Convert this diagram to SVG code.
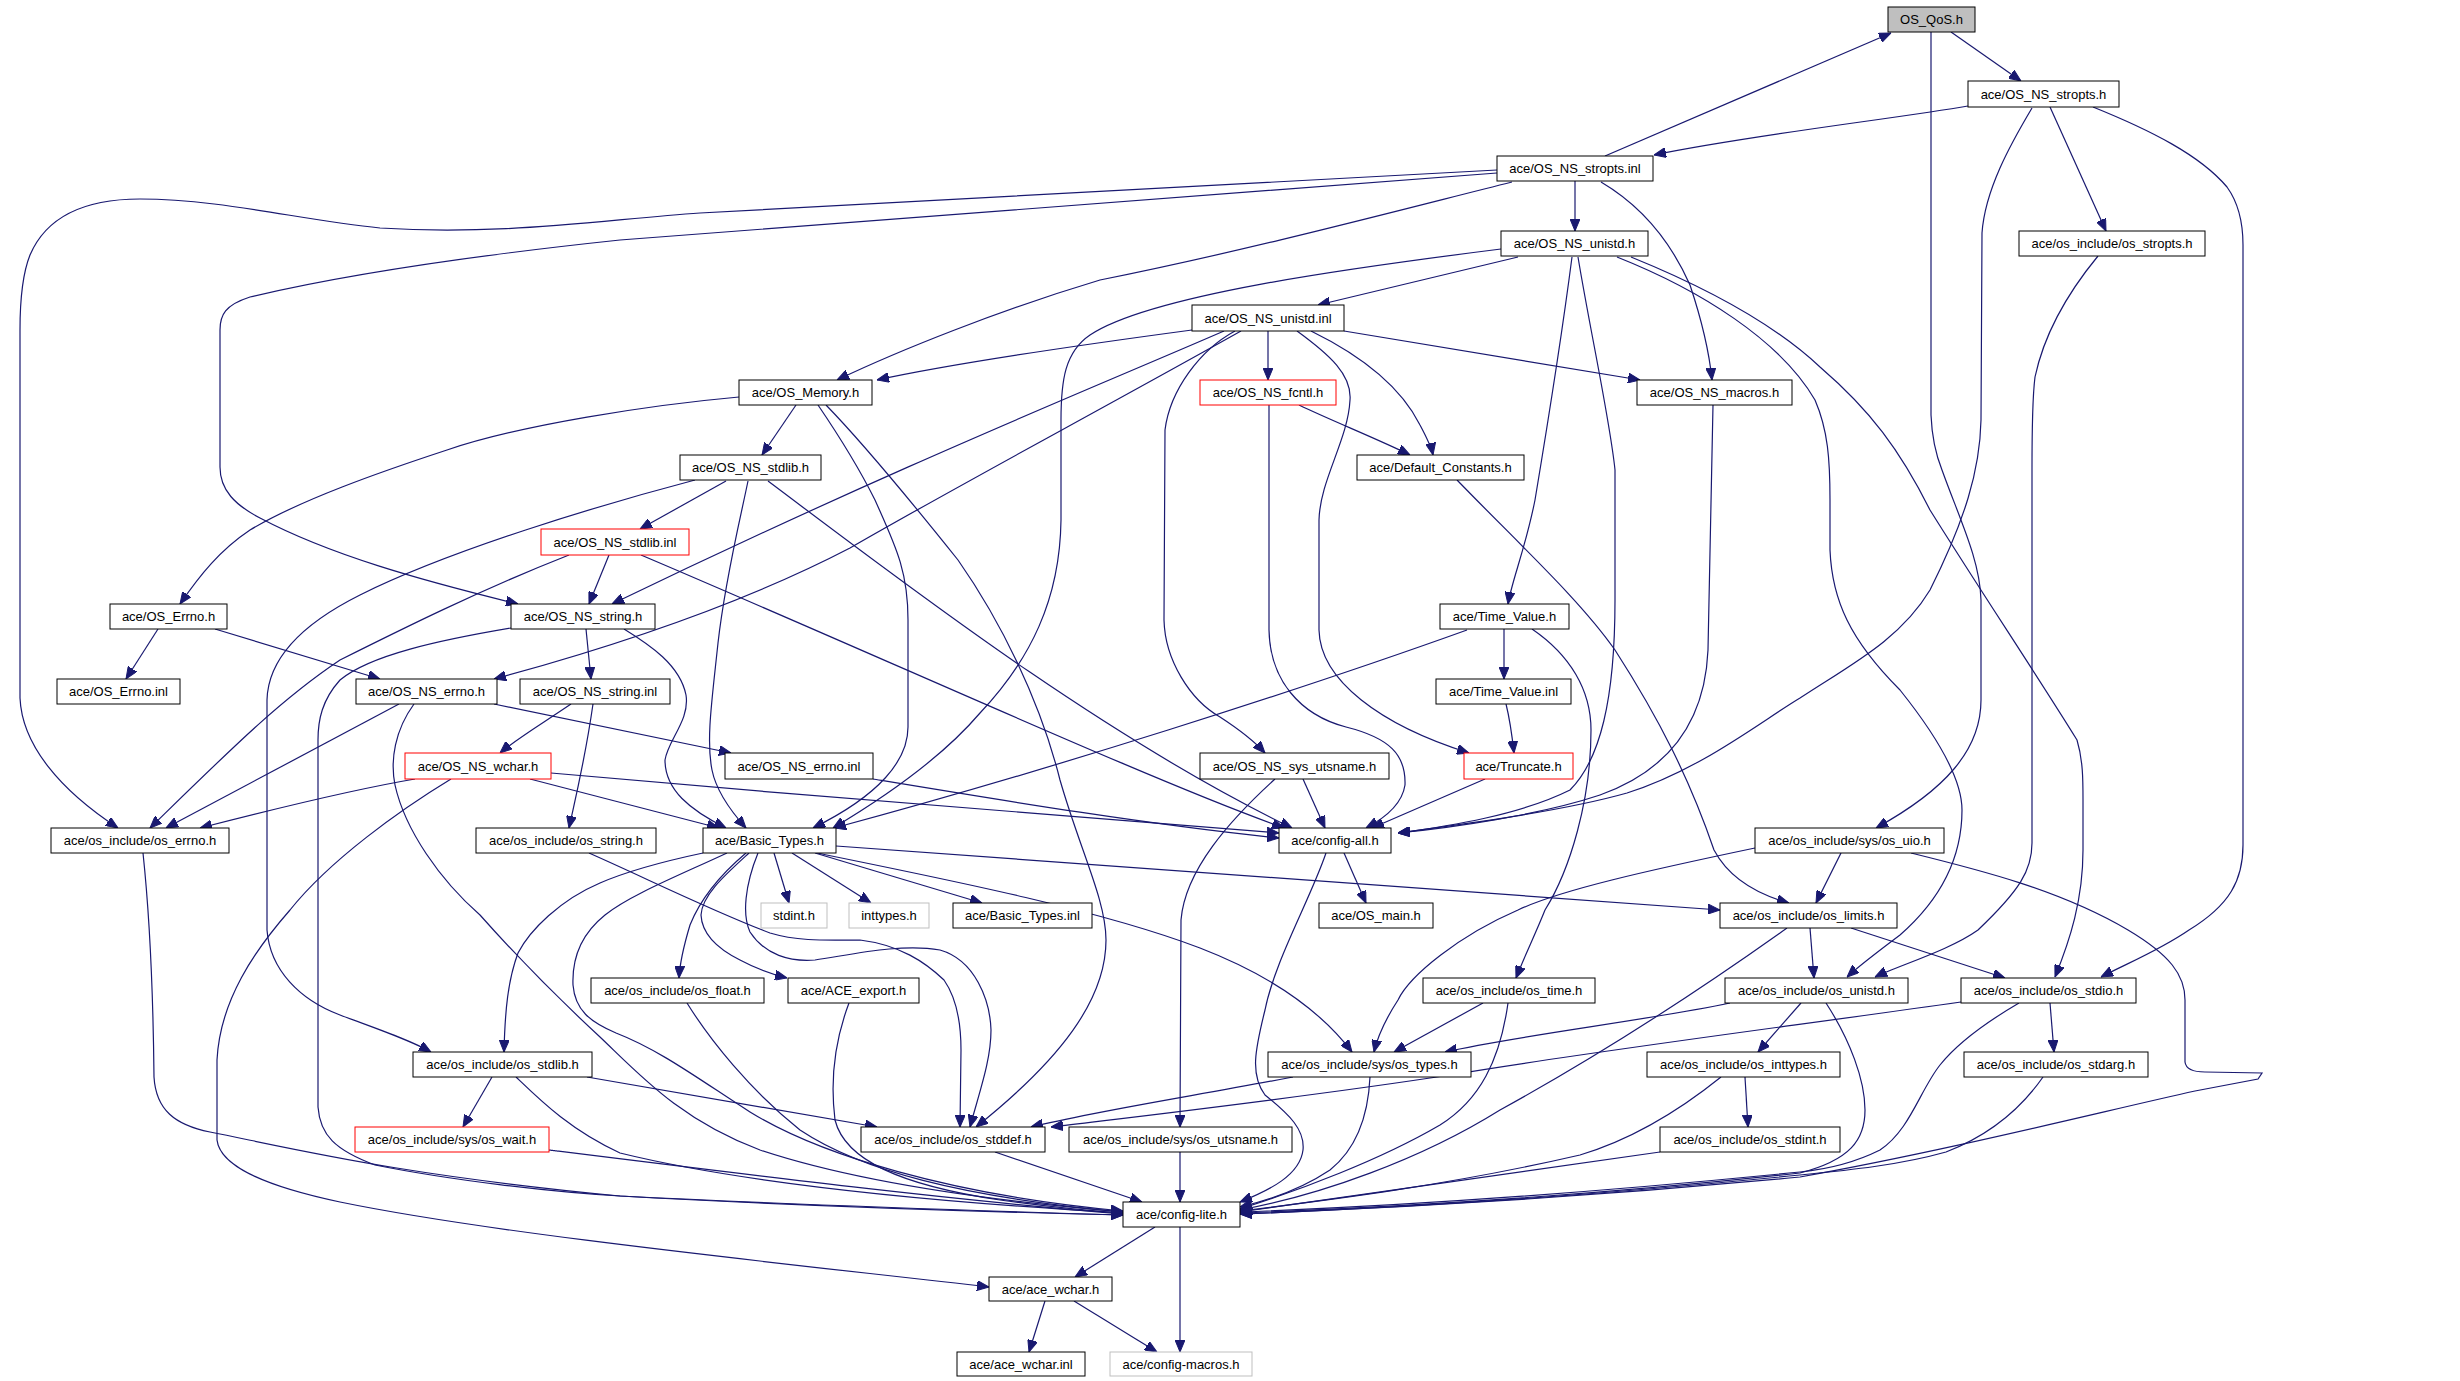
<svg xmlns="http://www.w3.org/2000/svg" width="2460" height="1381" viewBox="0 0 2460 1381">
<defs>
<style>
.n rect{fill:#fff;stroke:#000;stroke-width:1}
.n.r rect{stroke:#f00}
.n.g rect{stroke:#bfbfbf}
.n.q rect{fill:#bfbfbf}
text{font-family:"Liberation Sans",Arial,sans-serif;font-size:13px;text-anchor:middle;fill:#000}
.e path{fill:none;stroke:#191970;stroke-width:1.2;marker-end:url(#a)}
</style>
<marker id="a" markerWidth="12" markerHeight="10" refX="12" refY="5" orient="auto" markerUnits="userSpaceOnUse"><path d="M0,0 L12,5 L0,10 z" fill="#191970" stroke="#191970" stroke-width="1"/></marker>
</defs>
<rect width="2460" height="1381" fill="#fff"/>
<g id="edges" class="e">
<path d="M1951,32 L2021,81"/>
<path d="M1931,32 L1931,415 C1932,440 1936,455 1942,470 C1960,520 1980,560 1981,600 L1981,700 C1981,750 1945,790 1876,828"/>
<path d="M1605,156 L1891,33"/>
<path d="M1968,106 C1900,118 1750,135 1654,155"/>
<path d="M2050,107 L2106,231"/>
<path d="M2032,108 C2010,145 1985,190 1982,233 L1981,420 C1980,470 1965,520 1930,590 C1900,640 1850,665 1800,698 C1760,722 1700,770 1627,793 C1560,812 1450,826 1398,833"/>
<path d="M2093,107 C2150,130 2200,155 2227,187 C2240,205 2243,225 2243,245 L2243,845 C2243,880 2230,905 2189,930 C2160,950 2130,962 2101,977"/>
<path d="M2098,256 C2070,290 2045,330 2035,377 C2032,400 2032,430 2032,470 L2032,843 C2032,870 2020,890 1978,930 C1950,950 1900,965 1875,977"/>
<path d="M1575,181 L1575,231"/>
<path d="M1601,182 C1640,205 1670,240 1690,285 C1705,330 1710,360 1712,380"/>
<path d="M1512,182 C1400,210 1250,250 1100,280 C1000,310 900,350 837,380"/>
<path d="M1497,170 L700,213 C600,220 500,236 380,228 C300,220 220,199 140,199 C80,199 45,220 30,255 C22,275 20,300 20,330 L20,698 C22,745 60,790 118,828"/>
<path d="M1497,173 L620,240 C450,258 330,278 250,297 C225,305 220,315 220,330 L220,467 C220,490 235,505 260,518 C330,555 420,580 518,604"/>
<path d="M739,397 C650,405 520,425 447,450 C380,472 300,500 250,530 C220,550 200,575 180,604"/>
<path d="M796,405 L762,455"/>
<path d="M818,405 C835,430 860,470 875,500 C895,545 908,570 908,620 L908,727 C908,760 880,795 813,828"/>
<path d="M826,405 C860,440 910,500 958,560 C1000,620 1040,700 1060,780 C1080,850 1106,900 1106,940 C1106,1000 1060,1060 976,1127"/>
<path d="M726,481 L640,529"/>
<path d="M748,481 C740,520 725,580 718,643 C712,700 706,740 712,770 C716,790 728,808 746,828"/>
<path d="M768,481 C900,580 1100,735 1292,828"/>
<path d="M641,555 C900,665 1150,780 1284,828"/>
<path d="M609,555 L589,604"/>
<path d="M569,555 C480,590 400,630 340,660 C280,700 230,750 150,828"/>
<path d="M158,629 L126,679"/>
<path d="M215,629 L380,679"/>
<path d="M1241,331 C1100,410 950,490 850,548 C750,600 620,645 494,679"/>
<path d="M1224,331 C1100,385 900,465 612,604"/>
<path d="M1192,330 C1080,345 960,362 877,380"/>
<path d="M1268,331 L1268,380"/>
<path d="M1311,331 C1360,355 1400,385 1420,425 C1428,440 1432,450 1433,455"/>
<path d="M1344,331 L1640,380"/>
<path d="M1235,331 C1200,350 1170,390 1165,430 L1164,620 C1165,660 1190,700 1220,717 C1240,730 1255,742 1265,753"/>
<path d="M1297,331 C1330,355 1352,375 1350,400 C1348,440 1320,480 1319,520 L1319,630 C1320,680 1380,725 1469,753"/>
<path d="M1501,249 C1350,268 1150,295 1090,335 C1065,352 1061,380 1061,420 L1061,520 C1060,600 1030,660 980,713 C940,760 880,800 833,828"/>
<path d="M1518,257 L1318,305"/>
<path d="M1572,257 C1560,350 1545,440 1535,500 C1525,550 1512,580 1508,604"/>
<path d="M1578,257 C1590,330 1610,420 1615,470 L1615,600 C1615,700 1600,760 1570,790 C1520,815 1450,826 1398,833"/>
<path d="M1617,257 C1700,290 1780,340 1815,400 C1828,430 1830,460 1830,500 L1830,550 C1832,600 1850,640 1900,690 C1940,740 1962,780 1962,810 C1962,860 1940,900 1900,935 C1880,950 1860,965 1847,977"/>
<path d="M1631,257 C1700,285 1770,320 1820,367 C1870,410 1900,450 1930,510 C1980,590 2040,680 2077,740 C2083,760 2083,780 2083,800 L2083,850 C2083,900 2070,940 2055,977"/>
<path d="M1713,405 L1708,650 C1705,720 1670,770 1600,795 C1540,815 1450,828 1398,833"/>
<path d="M1299,405 C1330,420 1380,440 1410,455"/>
<path d="M1269,405 L1269,630 C1270,680 1300,715 1346,727 C1390,738 1406,755 1405,785 C1402,805 1385,818 1366,828"/>
<path d="M1457,480 C1520,545 1580,600 1615,650 C1660,720 1690,780 1714,850 C1730,880 1760,895 1789,903"/>
<path d="M1504,629 L1504,679"/>
<path d="M1506,704 C1510,720 1512,735 1514,753"/>
<path d="M1467,630 C1300,690 1050,770 834,828"/>
<path d="M1532,629 C1570,655 1591,690 1591,730 C1591,800 1570,870 1545,910 C1535,935 1525,955 1516,978"/>
<path d="M1485,779 L1372,828"/>
<path d="M1303,779 L1325,828"/>
<path d="M1275,779 C1230,820 1185,870 1181,920 L1180,1127"/>
<path d="M1344,853 L1366,903"/>
<path d="M1326,853 C1310,900 1275,960 1265,1010 C1255,1050 1250,1075 1265,1095 C1290,1115 1305,1130 1303,1150 C1300,1175 1270,1190 1240,1202"/>
<path d="M1841,853 L1816,903"/>
<path d="M1755,848 C1650,870 1560,890 1518,910 C1460,935 1410,975 1398,1000 C1385,1020 1378,1035 1374,1052"/>
<path d="M1911,853 C1980,870 2060,890 2128,930 C2170,955 2185,975 2185,1000 L2185,1062 C2186,1070 2195,1072 2205,1072 L2262,1073 L2258,1079 L2195,1091 C2100,1112 1950,1150 1800,1177 C1600,1196 1400,1208 1240,1214"/>
<path d="M774,853 L789,903"/>
<path d="M792,853 L871,903"/>
<path d="M815,853 L982,903"/>
<path d="M836,846 L1720,910"/>
<path d="M817,853 C950,880 1100,910 1200,948 C1270,975 1320,1010 1352,1052"/>
<path d="M746,853 C720,875 700,900 690,925 C684,945 680,960 679,978"/>
<path d="M749,853 C725,875 702,895 701,915 C702,935 720,950 740,960 C755,968 770,974 787,978"/>
<path d="M758,853 C745,885 742,915 750,932 C765,955 790,962 815,960 C850,955 900,943 940,950 C975,960 990,1000 991,1030 C991,1060 980,1090 970,1127"/>
<path d="M589,853 C650,880 710,910 770,933 C800,942 830,940 860,940 C900,945 925,962 944,980 C958,1000 961,1030 961,1050 L960,1127"/>
<path d="M703,853 C670,860 630,870 600,883 C560,900 530,930 518,953 C508,980 505,1010 504,1052"/>
<path d="M727,853 C680,875 630,895 605,915 C580,935 572,960 573,985 C575,1010 590,1022 616,1033 C660,1050 700,1080 750,1112 C820,1155 950,1195 1123,1211"/>
<path d="M687,1003 C710,1040 750,1090 800,1130 C860,1170 960,1197 1123,1212"/>
<path d="M849,1003 C835,1040 830,1080 835,1120 C845,1160 900,1185 1000,1200 C1050,1207 1090,1211 1123,1213"/>
<path d="M995,1152 L1142,1202"/>
<path d="M1180,1152 L1180,1202"/>
<path d="M1293,1077 C1200,1095 1100,1110 1031,1127"/>
<path d="M1961,1002 C1800,1025 1600,1050 1450,1075 C1300,1098 1150,1115 1051,1127"/>
<path d="M1370,1077 C1368,1120 1355,1150 1330,1170 C1300,1190 1270,1200 1240,1207"/>
<path d="M1483,1003 L1394,1052"/>
<path d="M1508,1003 C1500,1060 1480,1100 1440,1125 C1380,1160 1300,1190 1240,1209"/>
<path d="M1730,1003 C1650,1020 1520,1035 1445,1052"/>
<path d="M1801,1003 L1758,1052"/>
<path d="M1826,1003 C1850,1040 1865,1080 1865,1110 C1865,1140 1850,1160 1800,1173 C1600,1195 1400,1207 1240,1213"/>
<path d="M2050,1003 L2054,1052"/>
<path d="M2019,1003 C1990,1020 1960,1040 1940,1065 C1920,1090 1910,1130 1880,1150 C1850,1165 1820,1170 1800,1172 C1600,1192 1400,1206 1240,1212"/>
<path d="M2043,1077 C2020,1110 1990,1135 1946,1152 C1900,1165 1850,1170 1800,1175 C1600,1195 1400,1208 1240,1214"/>
<path d="M1810,928 L1814,978"/>
<path d="M1851,928 L2005,978"/>
<path d="M1787,928 C1700,990 1600,1055 1500,1110 C1420,1160 1320,1195 1240,1210"/>
<path d="M1745,1077 L1748,1127"/>
<path d="M1721,1077 C1680,1110 1630,1140 1580,1155 C1450,1185 1330,1200 1240,1211"/>
<path d="M1660,1152 L1240,1212"/>
<path d="M492,1077 L463,1127"/>
<path d="M587,1077 L877,1127"/>
<path d="M516,1077 C540,1100 570,1130 620,1153 C750,1185 950,1203 1123,1213"/>
<path d="M549,1150 C750,1175 950,1200 1123,1214"/>
<path d="M143,853 C148,900 153,980 154,1077 C156,1110 175,1125 210,1132 C300,1150 400,1175 620,1196 C800,1205 950,1210 1123,1215"/>
<path d="M511,628 C440,640 370,655 340,680 C322,700 318,720 318,740 L318,1107 C320,1135 335,1150 375,1165 C450,1180 550,1192 620,1196 C800,1206 950,1211 1123,1215"/>
<path d="M414,704 C395,730 390,760 395,785 C405,830 440,880 480,915 C520,960 560,1000 600,1037 C640,1075 680,1120 760,1150 C850,1180 980,1200 1123,1212"/>
<path d="M415,779 C350,790 270,810 200,828"/>
<path d="M530,779 L719,828"/>
<path d="M551,773 C800,795 1100,820 1279,833"/>
<path d="M873,779 C1000,800 1150,825 1279,838"/>
<path d="M451,779 C400,810 330,860 290,910 C255,950 220,1000 217,1060 L217,1140 C220,1165 260,1185 340,1202 C500,1235 800,1265 989,1287"/>
<path d="M494,704 L731,753"/>
<path d="M399,704 L166,828"/>
<path d="M586,629 L591,679"/>
<path d="M571,704 C540,725 515,740 500,753"/>
<path d="M593,704 C585,760 575,800 569,828"/>
<path d="M624,629 C650,645 680,665 686,695 C690,720 668,740 665,760 C665,790 690,810 726,828"/>
<path d="M1155,1227 L1075,1277"/>
<path d="M1180,1227 L1180,1352"/>
<path d="M1045,1301 L1029,1352"/>
<path d="M1074,1301 L1157,1352"/>
<path d="M695,480 C600,505 450,550 360,595 C300,625 268,660 267,700 L267,930 C270,970 300,1000 340,1015 C380,1030 410,1040 431,1052"/>
</g>
<g id="n1" class="n q"><rect x="1888" y="7" width="87" height="25"/><text x="1931.5" y="24">OS_QoS.h</text></g>
<g id="n2" class="n"><rect x="1968" y="81" width="151" height="26"/><text x="2043.5" y="98.5">ace/OS_NS_stropts.h</text></g>
<g id="n3" class="n"><rect x="1497" y="156" width="156" height="25"/><text x="1575" y="173">ace/OS_NS_stropts.inl</text></g>
<g id="n4" class="n"><rect x="2019" y="231" width="186" height="25"/><text x="2112" y="248">ace/os_include/os_stropts.h</text></g>
<g id="n5" class="n"><rect x="1501" y="231" width="147" height="25"/><text x="1574.5" y="248">ace/OS_NS_unistd.h</text></g>
<g id="n6" class="n"><rect x="1192" y="305" width="152" height="26"/><text x="1268" y="322.5">ace/OS_NS_unistd.inl</text></g>
<g id="n7" class="n"><rect x="739" y="380" width="133" height="25"/><text x="805.5" y="397">ace/OS_Memory.h</text></g>
<g id="n8" class="n r"><rect x="1200" y="380" width="136" height="25"/><text x="1268" y="397">ace/OS_NS_fcntl.h</text></g>
<g id="n9" class="n"><rect x="1637" y="380" width="155" height="25"/><text x="1714.5" y="397">ace/OS_NS_macros.h</text></g>
<g id="n10" class="n"><rect x="680" y="455" width="141" height="25"/><text x="750.5" y="472">ace/OS_NS_stdlib.h</text></g>
<g id="n11" class="n"><rect x="1357" y="455" width="167" height="25"/><text x="1440.5" y="472">ace/Default_Constants.h</text></g>
<g id="n12" class="n r"><rect x="541" y="529" width="148" height="26"/><text x="615" y="546.5">ace/OS_NS_stdlib.inl</text></g>
<g id="n13" class="n"><rect x="110" y="604" width="117" height="25"/><text x="168.5" y="621">ace/OS_Errno.h</text></g>
<g id="n14" class="n"><rect x="511" y="604" width="144" height="25"/><text x="583" y="621">ace/OS_NS_string.h</text></g>
<g id="n15" class="n"><rect x="1440" y="604" width="129" height="25"/><text x="1504.5" y="621">ace/Time_Value.h</text></g>
<g id="n16" class="n"><rect x="57" y="679" width="123" height="25"/><text x="118.5" y="696">ace/OS_Errno.inl</text></g>
<g id="n17" class="n"><rect x="356" y="679" width="141" height="25"/><text x="426.5" y="696">ace/OS_NS_errno.h</text></g>
<g id="n18" class="n"><rect x="520" y="679" width="150" height="25"/><text x="595" y="696">ace/OS_NS_string.inl</text></g>
<g id="n19" class="n"><rect x="1436" y="679" width="135" height="25"/><text x="1503.5" y="696">ace/Time_Value.inl</text></g>
<g id="n20" class="n r"><rect x="405" y="753" width="146" height="26"/><text x="478" y="770.5">ace/OS_NS_wchar.h</text></g>
<g id="n21" class="n"><rect x="725" y="753" width="148" height="26"/><text x="799" y="770.5">ace/OS_NS_errno.inl</text></g>
<g id="n22" class="n"><rect x="1200" y="753" width="189" height="26"/><text x="1294.5" y="770.5">ace/OS_NS_sys_utsname.h</text></g>
<g id="n23" class="n r"><rect x="1464" y="753" width="109" height="26"/><text x="1518.5" y="770.5">ace/Truncate.h</text></g>
<g id="n24" class="n"><rect x="51" y="828" width="178" height="25"/><text x="140" y="845">ace/os_include/os_errno.h</text></g>
<g id="n25" class="n"><rect x="476" y="828" width="180" height="25"/><text x="566" y="845">ace/os_include/os_string.h</text></g>
<g id="n26" class="n"><rect x="703" y="828" width="133" height="25"/><text x="769.5" y="845">ace/Basic_Types.h</text></g>
<g id="n27" class="n"><rect x="1279" y="828" width="112" height="25"/><text x="1335" y="845">ace/config-all.h</text></g>
<g id="n28" class="n"><rect x="1755" y="828" width="189" height="25"/><text x="1849.5" y="845">ace/os_include/sys/os_uio.h</text></g>
<g id="n29" class="n g"><rect x="761" y="903" width="66" height="25"/><text x="794" y="920">stdint.h</text></g>
<g id="n30" class="n g"><rect x="849" y="903" width="80" height="25"/><text x="889" y="920">inttypes.h</text></g>
<g id="n31" class="n"><rect x="953" y="903" width="139" height="25"/><text x="1022.5" y="920">ace/Basic_Types.inl</text></g>
<g id="n32" class="n"><rect x="1319" y="903" width="114" height="25"/><text x="1376" y="920">ace/OS_main.h</text></g>
<g id="n33" class="n"><rect x="1720" y="903" width="177" height="25"/><text x="1808.5" y="920">ace/os_include/os_limits.h</text></g>
<g id="n34" class="n"><rect x="591" y="978" width="173" height="25"/><text x="677.5" y="995">ace/os_include/os_float.h</text></g>
<g id="n35" class="n"><rect x="788" y="978" width="131" height="25"/><text x="853.5" y="995">ace/ACE_export.h</text></g>
<g id="n36" class="n"><rect x="1423" y="978" width="172" height="25"/><text x="1509" y="995">ace/os_include/os_time.h</text></g>
<g id="n37" class="n"><rect x="1725" y="978" width="183" height="25"/><text x="1816.5" y="995">ace/os_include/os_unistd.h</text></g>
<g id="n38" class="n"><rect x="1961" y="978" width="175" height="25"/><text x="2048.5" y="995">ace/os_include/os_stdio.h</text></g>
<g id="n39" class="n"><rect x="413" y="1052" width="179" height="25"/><text x="502.5" y="1069">ace/os_include/os_stdlib.h</text></g>
<g id="n40" class="n"><rect x="1268" y="1052" width="203" height="25"/><text x="1369.5" y="1069">ace/os_include/sys/os_types.h</text></g>
<g id="n41" class="n"><rect x="1647" y="1052" width="193" height="25"/><text x="1743.5" y="1069">ace/os_include/os_inttypes.h</text></g>
<g id="n42" class="n"><rect x="1964" y="1052" width="184" height="25"/><text x="2056" y="1069">ace/os_include/os_stdarg.h</text></g>
<g id="n43" class="n r"><rect x="355" y="1127" width="194" height="25"/><text x="452" y="1144">ace/os_include/sys/os_wait.h</text></g>
<g id="n44" class="n"><rect x="861" y="1127" width="184" height="25"/><text x="953" y="1144">ace/os_include/os_stddef.h</text></g>
<g id="n45" class="n"><rect x="1069" y="1127" width="223" height="25"/><text x="1180.5" y="1144">ace/os_include/sys/os_utsname.h</text></g>
<g id="n46" class="n"><rect x="1660" y="1127" width="180" height="25"/><text x="1750" y="1144">ace/os_include/os_stdint.h</text></g>
<g id="n47" class="n"><rect x="1123" y="1202" width="117" height="25"/><text x="1181.5" y="1219">ace/config-lite.h</text></g>
<g id="n48" class="n"><rect x="989" y="1277" width="123" height="24"/><text x="1050.5" y="1293.5">ace/ace_wchar.h</text></g>
<g id="n49" class="n"><rect x="957" y="1352" width="128" height="24"/><text x="1021" y="1368.5">ace/ace_wchar.inl</text></g>
<g id="n50" class="n g"><rect x="1110" y="1352" width="142" height="24"/><text x="1181" y="1368.5">ace/config-macros.h</text></g>
</svg>
